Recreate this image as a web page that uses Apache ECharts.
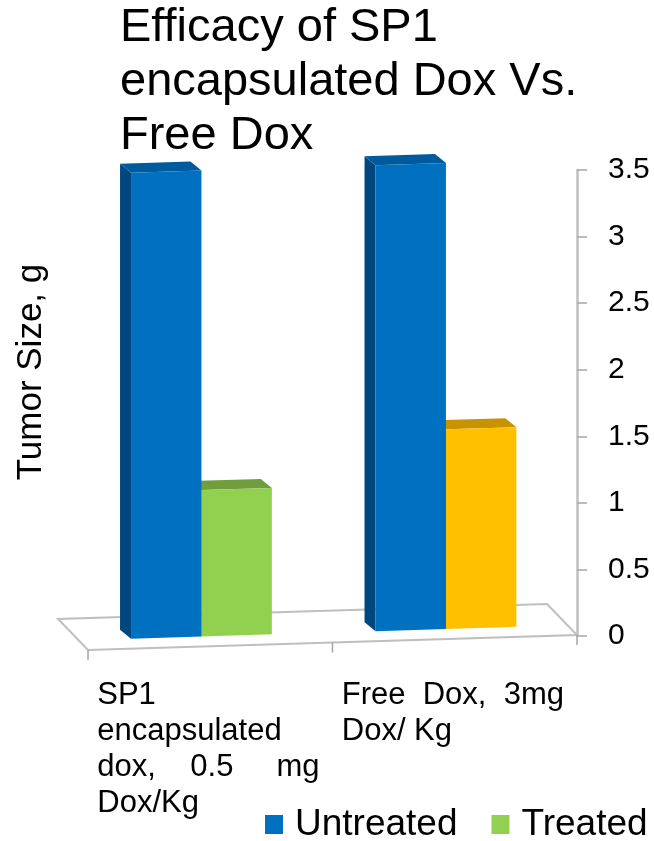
<!DOCTYPE html>
<html>
<head>
<meta charset="utf-8">
<script src="https://cdn.jsdelivr.net/npm/echarts@6/dist/echarts.min.js"></script>
<style>
  html, body { margin: 0; padding: 0; background: #fff; }
  #chart { width: 654px; height: 841px; }
</style>
</head>
<body>
<div id="chart"></div>
<script>
// ---------- data ----------
const categories = ['SP1 encapsulated dox, 0.5 mg Dox/Kg', 'Free Dox, 3mg Dox/ Kg'];
const categoryLabelLines = [
  ['SP1', 'encapsulated', 'dox,    0.5     mg', 'Dox/Kg'],
  ['Free  Dox,  3mg', 'Dox/ Kg']
];
const seriesNames = ['Untreated', 'Treated'];
const untreatedValues = [3.5, 3.5];
const treatedValues = [1.1, 1.5];
const yMin = 0, yMax = 3.5, yInterval = 0.5;
const titleText = 'Efficacy of SP1\nencapsulated Dox Vs.\nFree Dox';
const yAxisTitle = 'Tumor Size, g';

// ---------- styles ----------
const FONT = "'Liberation Sans', Arial, sans-serif";
const UNTREATED_STYLE = { front: '#0070C0', top: '#005B9E', side: '#00477F' };
const TREATED_STYLES = [
  { front: '#92D050', top: '#6F9E3C', side: '#5E8A30' },
  { front: '#FFC000', top: '#C79400', side: '#A87C00' }
];
const BAR_W = 0.288;          // bar width as fraction of band
const BAR_OFF = [-0.324, -0.036]; // left edge offset (fraction of band) per series
const SLOPE = 0.0307;         // floor tilt
const BAR_BASE = 4;           // bar base offset below zero line
const BAR_DEPTH = [-11, -9];  // 3D depth vector of bars
const FLOOR_FRONT = 14;       // floor front edge offset below zero line
const FLOOR_DEPTH = [-30, -31];

function makeBarRender(seriesIdx) {
  return function (params, api) {
    const c = api.value(0), v = api.value(1);
    const cs = params.coordSys;
    const p0 = api.coord([c, 0]);
    const band = api.size([1, 0])[0];
    const h = api.size([0, v])[1];
    const left = p0[0] + band * BAR_OFF[seriesIdx];
    const right = left + band * BAR_W;
    const yb = x => p0[1] + BAR_BASE - SLOPE * (x - cs.x);
    const yl = yb(left), yr = yb(right);
    const dx = BAR_DEPTH[0], dy = BAR_DEPTH[1];
    const st = seriesIdx === 0 ? UNTREATED_STYLE : TREATED_STYLES[c];
    return {
      type: 'group',
      children: [
        { type: 'polygon', shape: { points: [[left, yl], [left, yl - h], [left + dx, yl - h + dy], [left + dx, yl + dy]] },
          style: { fill: st.side } },
        { type: 'polygon', shape: { points: [[left, yl - h], [right, yr - h], [right + dx, yr - h + dy], [left + dx, yl - h + dy]] },
          style: { fill: st.top } },
        { type: 'polygon', shape: { points: [[left, yl], [right, yr], [right, yr - h], [left, yl - h]] },
          style: { fill: st.front } }
      ]
    };
  };
}

function renderFloor(params, api) {
  const cs = params.coordSys;
  const p0 = api.coord([0, 0]);
  const band = api.size([1, 0])[0];
  const x0 = cs.x, x1 = cs.x + cs.width;
  const yf = x => p0[1] + FLOOR_FRONT - SLOPE * (x - cs.x);
  const fl = [x0, yf(x0)], fr = [x1, yf(x1)];
  const bl = [fl[0] + FLOOR_DEPTH[0], fl[1] + FLOOR_DEPTH[1]];
  const br = [fr[0] + FLOOR_DEPTH[0], fr[1] + FLOOR_DEPTH[1]];
  const children = [
    { type: 'polygon', shape: { points: [fl, fr, br, bl] },
      style: { fill: '#fff', stroke: '#BFBFBF', lineWidth: 2 } }
  ];
  for (let k = 0; k <= categories.length; k++) {
    const x = x0 + k * band;
    const y = yf(x);
    children.push({ type: 'line', shape: { x1: x, y1: y, x2: x, y2: y + 10 },
      style: { stroke: '#A6A6A6', lineWidth: 1.5 } });
  }
  return { type: 'group', children };
}

const chart = echarts.init(document.getElementById('chart'), null, { renderer: 'canvas' });
const option = {
  backgroundColor: '#fff',
  animation: false,
  title: {
    text: titleText,
    left: 120, top: 1, padding: 0,
    textStyle: { fontFamily: FONT, fontSize: 47, lineHeight: 54, fontWeight: 'normal', color: '#000' }
  },
  legend: {
    data: seriesNames,
    left: 265, top: 806, padding: 0, width: 389,
    icon: 'rect', itemWidth: 18, itemHeight: 19, itemGap: 34,
    textStyle: { fontFamily: FONT, fontSize: 37, color: '#000', padding: [0, 0, 0, 7] }
  },
  grid: { left: 88, right: 77, top: 170, bottom: 205 },
  xAxis: {
    type: 'category',
    data: categories,
    axisLine: { show: false },
    axisTick: { show: false },
    axisLabel: {
      interval: 0,
      margin: 41,
      align: 'center',
      formatter: (val, idx) => categoryLabelLines[idx].map(l => '{a|' + l + '}').join('\n'),
      rich: { a: { width: 226, align: 'left', fontFamily: FONT, fontSize: 31, lineHeight: 36, color: '#000' } }
    }
  },
  yAxis: {
    type: 'value',
    position: 'right',
    min: yMin, max: yMax, interval: yInterval,
    splitLine: { show: false },
    axisLine: { show: true, lineStyle: { color: '#BFBFBF', width: 2.5 } },
    axisTick: { show: true, length: 10, lineStyle: { color: '#A6A6A6', width: 1.5 } },
    axisLabel: { margin: 31, fontFamily: FONT, fontSize: 30, color: '#000' }
  },
  graphic: [{
    type: 'text', x: 31, y: 372, rotation: Math.PI / 2,
    style: { text: yAxisTitle, fontFamily: FONT, fontSize: 35, fill: '#000', align: 'center', verticalAlign: 'middle' }
  }],
  series: [
    {
      type: 'custom', name: 'floor', renderItem: renderFloor, data: [[0, 0]], z: 1,
      silent: true, legendHoverLink: false
    },
    {
      type: 'custom', name: seriesNames[0], renderItem: makeBarRender(0), z: 3,
      itemStyle: { color: UNTREATED_STYLE.front },
      encode: { x: 0, y: 1 },
      data: untreatedValues.map((v, i) => [i, v])
    },
    {
      type: 'custom', name: seriesNames[1], renderItem: makeBarRender(1), z: 2,
      itemStyle: { color: TREATED_STYLES[0].front },
      encode: { x: 0, y: 1 },
      data: treatedValues.map((v, i) => [i, v])
    }
  ]
};
chart.setOption(option);
</script>
</body>
</html>
